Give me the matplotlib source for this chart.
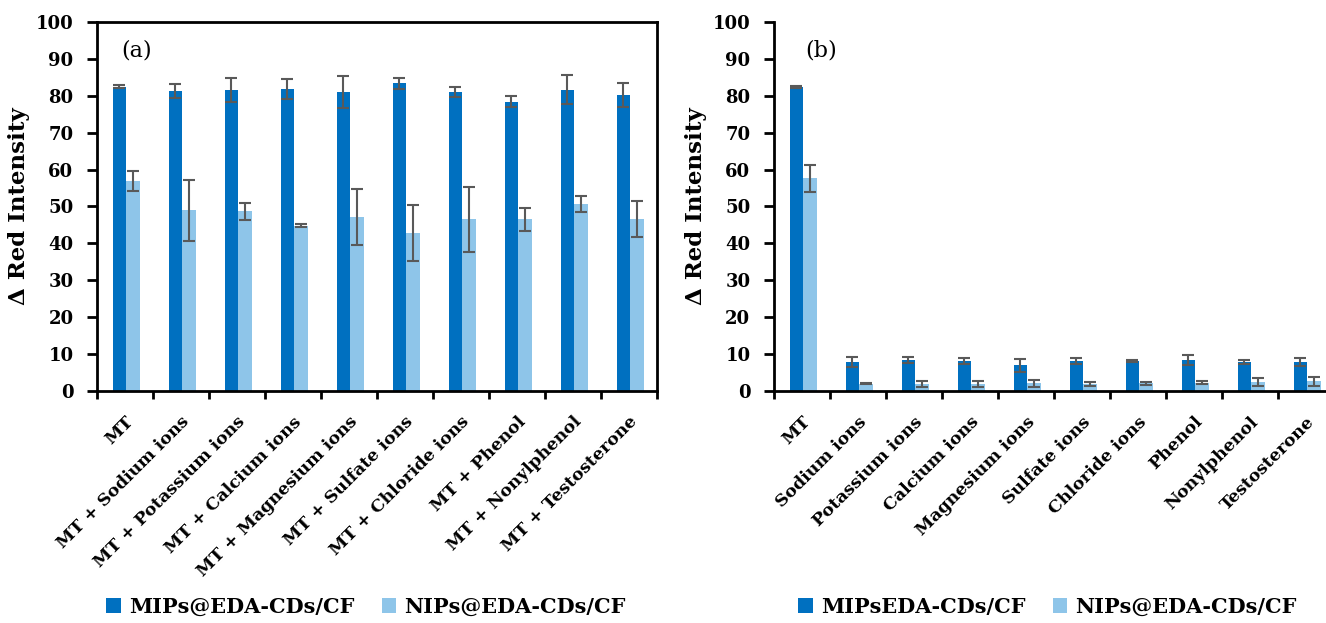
import numpy as np
import matplotlib.pyplot as plt

labels_a = ["MT", "MT + Sodium ions", "MT + Potassium ions", "MT + Calcium ions",
            "MT + Magnesium ions", "MT + Sulfate ions", "MT + Chloride ions",
            "MT + Phenol", "MT + Nonylphenol", "MT + Testosterone"]
labels_b = ["MT", "Sodium ions", "Potassium ions", "Calcium ions", "Magnesium ions",
            "Sulfate ions", "Chloride ions", "Phenol", "Nonylphenol", "Testosterone"]

# panel (a): MT plus interferents
mip_a = [82.5, 81.3, 81.6, 81.8, 81.0, 83.4, 81.0, 78.4, 81.7, 80.2]
mip_a_err = [0.3, 2.0, 3.2, 2.8, 4.3, 1.5, 1.4, 1.5, 3.9, 3.2]
nip_a = [56.9, 49.0, 48.7, 44.8, 47.2, 42.8, 46.5, 46.5, 50.7, 46.7]
nip_a_err = [2.6, 8.3, 2.3, 0.4, 7.5, 7.6, 8.8, 3.2, 2.1, 4.9]

# panel (b): each substance alone
mip_b = [82.3, 7.9, 8.4, 8.2, 7.0, 8.2, 8.2, 8.4, 7.9, 7.9]
mip_b_err = [0.3, 1.4, 0.7, 0.8, 1.8, 0.8, 0.3, 1.4, 0.5, 1.1]
nip_b = [57.6, 2.0, 1.9, 1.9, 2.1, 1.9, 2.1, 2.2, 2.5, 2.6]
nip_b_err = [3.6, 0.2, 0.7, 0.7, 1.0, 0.6, 0.4, 0.4, 1.1, 1.3]

c_mip = "#0070C0"
c_nip = "#8EC5E9"
c_err = "#595959"
serif = ["DejaVu Serif"]

fig = plt.figure(figsize=(13.26, 6.23), dpi=100)
ax_a = fig.add_axes([0.0732, 0.3724, 0.4223, 0.5923])
ax_b = fig.add_axes([0.5837, 0.3724, 0.4223, 0.5923])


def panel(ax, labels, mip, mip_err, nip, nip_err, leg1, tag, tag_x, box, leg_x):
    x = np.arange(len(labels))
    ek = dict(ecolor=c_err, elinewidth=1.5, capsize=4, capthick=1.5)
    ax.bar(x - 0.1, mip, 0.24, color=c_mip, yerr=mip_err, error_kw=ek, label=leg1)
    ax.bar(x + 0.14, nip, 0.24, color=c_nip, yerr=nip_err, error_kw=ek,
           label="NIPs@EDA-CDs/CF")
    ax.set_xlim(-0.5, len(labels) - 0.5)
    ax.set_ylim(0, 100)
    ax.set_yticks(range(0, 101, 10))
    ax.set_xticks(np.arange(-0.5, len(labels), 1.0))
    ax.set_xticklabels([])
    ax.set_xticks(x, minor=True)
    ax.set_xticklabels(labels, minor=True, rotation=45, ha="right",
                       rotation_mode="anchor", fontsize=12.5, fontweight="bold",
                       family=serif)
    ax.tick_params(axis="x", which="minor", length=0, pad=16)
    ax.tick_params(axis="x", which="major", direction="out", length=6, width=2)
    ax.tick_params(axis="y", direction="out", length=7, width=2, pad=10)
    for t in ax.get_yticklabels():
        t.set_fontsize(13)
        t.set_fontweight("bold")
        t.set_family(serif)
    ax.set_ylabel("Δ Red Intensity", fontsize=16.5, fontweight="bold", family=serif,
                  labelpad=4)
    for s in ["left", "bottom"]:
        ax.spines[s].set_linewidth(2)
    for s in ["top", "right"]:
        ax.spines[s].set_visible(box)
        ax.spines[s].set_linewidth(2)
    ax.text(tag_x, 92.4, tag, fontsize=16, family=serif, ha="center", va="center")
    ax.legend(loc="center", bbox_to_anchor=(leg_x, 0.026), bbox_transform=fig.transFigure,
              ncol=2, frameon=False, handlelength=0.7, handleheight=0.7,
              handletextpad=0.4, columnspacing=1.3,
              prop=dict(family=serif, weight="bold", size=15))


panel(ax_a, labels_a, mip_a, mip_a_err, nip_a, nip_a_err, "MIPs@EDA-CDs/CF",
      "(a)", 0.21, True, 0.276)
panel(ax_b, labels_b, mip_b, mip_b_err, nip_b, nip_b_err, "MIPsEDA-CDs/CF",
      "(b)", 0.34, False, 0.79)

fig.savefig("out.png", dpi=100)
